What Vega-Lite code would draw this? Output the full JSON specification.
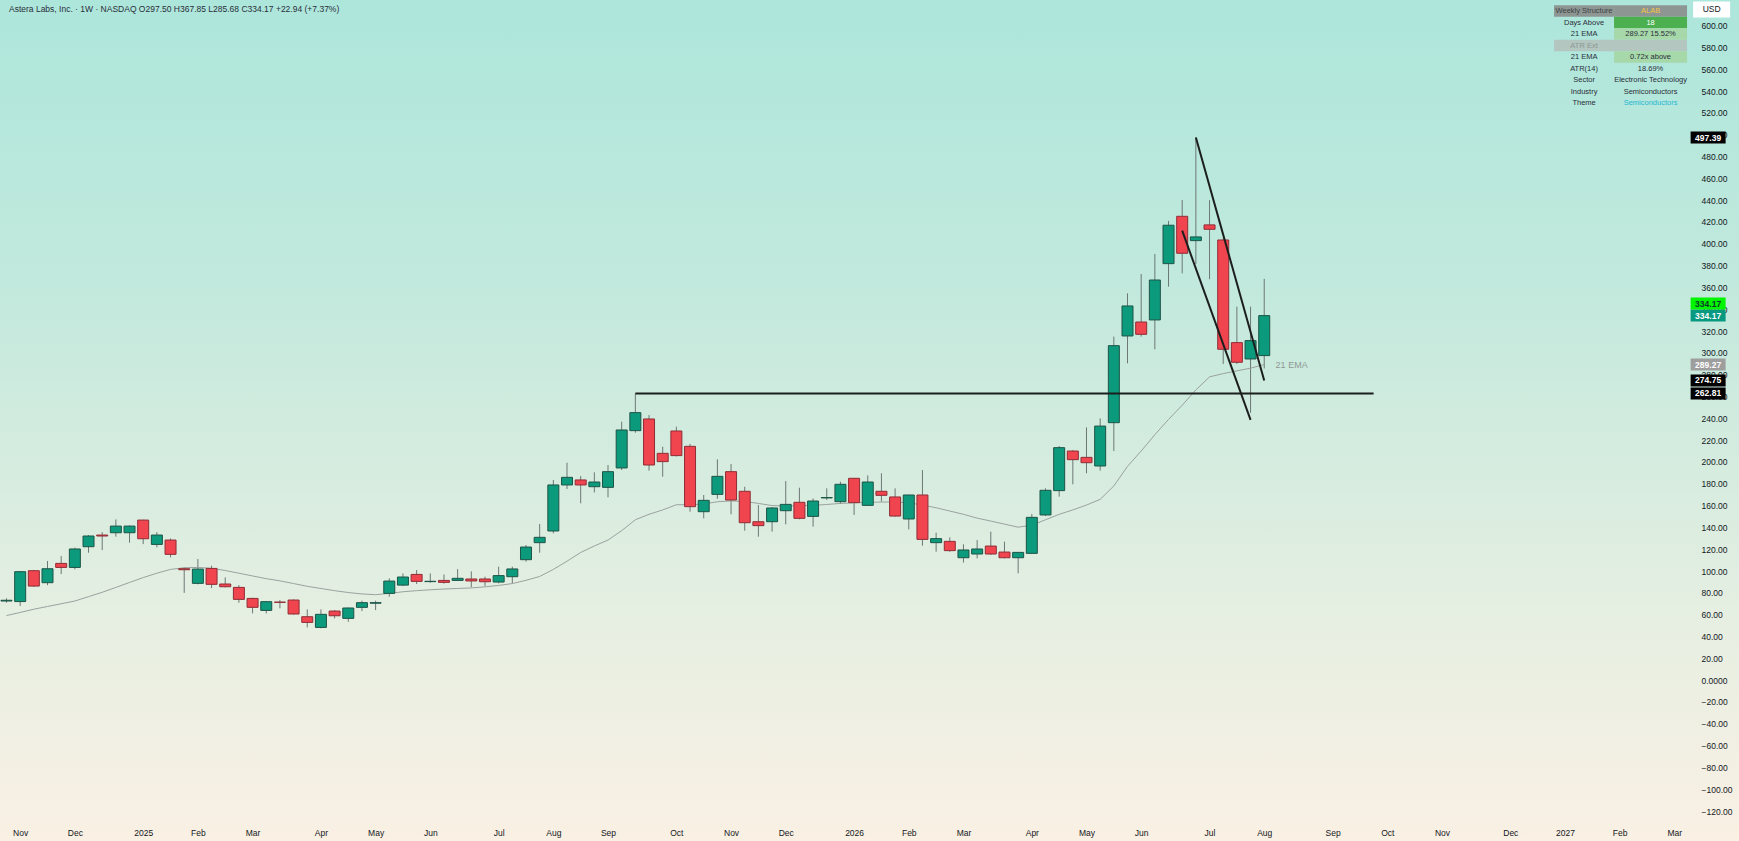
{
  "$schema": "https://vega.github.io/schema/vega-lite/v6.json",
  "width": 1739,
  "height": 841,
  "autosize": "none",
  "padding": 0,
  "background": "#dcece1",
  "config": {
    "font": "Liberation Sans",
    "axis": {"labelOverlap": false},
    "axisY": {"labelOverlap": false, "tickCount": 40},
    "view": {
      "stroke": null,
      "fill": {
        "gradient": "linear", "x1": 0, "y1": 0, "x2": 0, "y2": 1,
        "stops": [
          {"offset": 0, "color": "#ade6db"},
          {"offset": 0.35, "color": "#c3e9dd"},
          {"offset": 0.55, "color": "#d5ecdf"},
          {"offset": 0.75, "color": "#e7efe2"},
          {"offset": 1, "color": "#faf0e4"}
        ]
      }
    }
  },
  "datasets": {
    "candles": [
      {"d": "2024-10-28", "o": 72.5, "h": 75, "l": 71, "c": 73.2, "ema": 59.2},
      {"d": "2024-11-04", "o": 72, "h": 100, "l": 68, "c": 99.4, "ema": 62},
      {"d": "2024-11-11", "o": 100.3, "h": 101, "l": 85.5, "c": 86.2, "ema": 65},
      {"d": "2024-11-18", "o": 89.3, "h": 109.2, "l": 87, "c": 102.1, "ema": 67.5},
      {"d": "2024-11-25", "o": 107, "h": 113.7, "l": 97.2, "c": 103.3, "ema": 70},
      {"d": "2024-12-02", "o": 103.3, "h": 121.4, "l": 101.5, "c": 120.2, "ema": 72.5},
      {"d": "2024-12-09", "o": 122.3, "h": 133, "l": 116.8, "c": 132.1, "ema": 76.5},
      {"d": "2024-12-16", "o": 133, "h": 135.7, "l": 119.2, "c": 132.1, "ema": 80.5},
      {"d": "2024-12-23", "o": 135.1, "h": 147.3, "l": 131.5, "c": 141.2, "ema": 85},
      {"d": "2024-12-30", "o": 135.1, "h": 141.8, "l": 126, "c": 141.2, "ema": 89.5},
      {"d": "2025-01-06", "o": 146.7, "h": 147, "l": 124.7, "c": 129.6, "ema": 94},
      {"d": "2025-01-13", "o": 124.4, "h": 135.7, "l": 121.7, "c": 133, "ema": 98},
      {"d": "2025-01-20", "o": 128.4, "h": 129.9, "l": 112.5, "c": 115.3, "ema": 101.5},
      {"d": "2025-01-27", "o": 102.1, "h": 103.5, "l": 80, "c": 101.2, "ema": 103},
      {"d": "2025-02-03", "o": 88.7, "h": 111, "l": 87.8, "c": 101.8, "ema": 103.3},
      {"d": "2025-02-10", "o": 102.4, "h": 104.9, "l": 84.4, "c": 87.8, "ema": 102.5},
      {"d": "2025-02-17", "o": 88.1, "h": 94.2, "l": 85, "c": 85.6, "ema": 100.5},
      {"d": "2025-02-24", "o": 85, "h": 87.1, "l": 70.9, "c": 74, "ema": 98},
      {"d": "2025-03-03", "o": 74.9, "h": 75.5, "l": 61.2, "c": 66.7, "ema": 95.5},
      {"d": "2025-03-10", "o": 63.9, "h": 72.5, "l": 61.2, "c": 71.9, "ema": 93},
      {"d": "2025-03-17", "o": 71.5, "h": 73.4, "l": 65.8, "c": 71.3, "ema": 91},
      {"d": "2025-03-24", "o": 73.4, "h": 74, "l": 60, "c": 60.6, "ema": 88.5},
      {"d": "2025-03-31", "o": 58.1, "h": 64.8, "l": 48.3, "c": 52.9, "ema": 86},
      {"d": "2025-04-07", "o": 48.3, "h": 64.8, "l": 47.5, "c": 60.3, "ema": 84},
      {"d": "2025-04-14", "o": 63.3, "h": 64.2, "l": 56.6, "c": 59, "ema": 82},
      {"d": "2025-04-21", "o": 56.6, "h": 66.5, "l": 53.5, "c": 66.1, "ema": 80.3},
      {"d": "2025-04-28", "o": 66.7, "h": 72.8, "l": 63.3, "c": 71, "ema": 79},
      {"d": "2025-05-05", "o": 70.5, "h": 72.8, "l": 64.2, "c": 71, "ema": 78.3},
      {"d": "2025-05-12", "o": 79.5, "h": 93.3, "l": 76.5, "c": 90.8, "ema": 79.5},
      {"d": "2025-05-19", "o": 87.1, "h": 97.8, "l": 86.2, "c": 94.5, "ema": 81},
      {"d": "2025-05-26", "o": 96.9, "h": 100.9, "l": 88.1, "c": 90.5, "ema": 82},
      {"d": "2025-06-02", "o": 90.3, "h": 97.8, "l": 89.3, "c": 90.6, "ema": 82.8},
      {"d": "2025-06-09", "o": 91.4, "h": 96.9, "l": 88.4, "c": 89.6, "ema": 83.5},
      {"d": "2025-06-16", "o": 91.4, "h": 101.8, "l": 91, "c": 93.3, "ema": 84},
      {"d": "2025-06-23", "o": 92.7, "h": 99.7, "l": 85.1, "c": 90.9, "ema": 84.5},
      {"d": "2025-06-30", "o": 92.7, "h": 94.8, "l": 86.3, "c": 90.2, "ema": 85.5},
      {"d": "2025-07-07", "o": 89.9, "h": 104, "l": 88.7, "c": 95.8, "ema": 86.8},
      {"d": "2025-07-14", "o": 94.8, "h": 104, "l": 88.7, "c": 101.9, "ema": 88.5},
      {"d": "2025-07-21", "o": 110.4, "h": 123.9, "l": 108.6, "c": 122, "ema": 91.5},
      {"d": "2025-07-28", "o": 126, "h": 143.1, "l": 116.8, "c": 130.9, "ema": 95},
      {"d": "2025-08-04", "o": 136.7, "h": 183.5, "l": 134.6, "c": 178.9, "ema": 101.5},
      {"d": "2025-08-11", "o": 178.9, "h": 199.3, "l": 175.2, "c": 185.9, "ema": 109},
      {"d": "2025-08-18", "o": 183.5, "h": 187.1, "l": 162.1, "c": 178.9, "ema": 117},
      {"d": "2025-08-25", "o": 177.3, "h": 190.5, "l": 172.1, "c": 181.6, "ema": 123},
      {"d": "2025-09-01", "o": 176.7, "h": 197.2, "l": 167.6, "c": 191.1, "ema": 128.4},
      {"d": "2025-09-08", "o": 194.5, "h": 236.9, "l": 192.6, "c": 229.3, "ema": 137},
      {"d": "2025-09-15", "o": 228.7, "h": 262.81, "l": 226.8, "c": 245.2, "ema": 147},
      {"d": "2025-09-22", "o": 239.4, "h": 243, "l": 192, "c": 197.2, "ema": 152},
      {"d": "2025-09-29", "o": 207.9, "h": 214, "l": 186.5, "c": 200.3, "ema": 156},
      {"d": "2025-10-06", "o": 228.4, "h": 232.4, "l": 205, "c": 205.8, "ema": 160.8},
      {"d": "2025-10-13", "o": 214.3, "h": 216.5, "l": 154.4, "c": 159, "ema": 160.7},
      {"d": "2025-10-20", "o": 154.4, "h": 169.7, "l": 148.3, "c": 164.8, "ema": 161.5},
      {"d": "2025-10-27", "o": 170.3, "h": 202.4, "l": 166.3, "c": 186.8, "ema": 163.5},
      {"d": "2025-11-03", "o": 191.1, "h": 198.1, "l": 152, "c": 165.1, "ema": 164.3},
      {"d": "2025-11-10", "o": 173.1, "h": 177.3, "l": 137, "c": 144.3, "ema": 163.7},
      {"d": "2025-11-17", "o": 145.2, "h": 160.5, "l": 131.5, "c": 141.6, "ema": 162},
      {"d": "2025-11-24", "o": 145.2, "h": 158.5, "l": 136.1, "c": 157.8, "ema": 160},
      {"d": "2025-12-01", "o": 155.3, "h": 182.5, "l": 142.8, "c": 161.1, "ema": 159.7},
      {"d": "2025-12-08", "o": 163, "h": 176.4, "l": 147.4, "c": 148.3, "ema": 159.8},
      {"d": "2025-12-15", "o": 150.1, "h": 166.6, "l": 140.7, "c": 164.2, "ema": 160.2},
      {"d": "2025-12-22", "o": 167, "h": 175.8, "l": 165.1, "c": 167.4, "ema": 161},
      {"d": "2025-12-29", "o": 163.6, "h": 181.9, "l": 161.5, "c": 179.5, "ema": 162},
      {"d": "2026-01-05", "o": 185, "h": 185.3, "l": 151.4, "c": 162.7, "ema": 162.5},
      {"d": "2026-01-12", "o": 160.2, "h": 187.7, "l": 160, "c": 181.6, "ema": 163},
      {"d": "2026-01-19", "o": 173.1, "h": 189.6, "l": 163.6, "c": 169.4, "ema": 163.2},
      {"d": "2026-01-26", "o": 167.9, "h": 175.8, "l": 149.8, "c": 150.4, "ema": 163.4},
      {"d": "2026-02-02", "o": 147.7, "h": 170, "l": 138.2, "c": 169.7, "ema": 162.5},
      {"d": "2026-02-09", "o": 169.7, "h": 192.6, "l": 123.2, "c": 129, "ema": 160.5},
      {"d": "2026-02-16", "o": 126, "h": 135.2, "l": 117.7, "c": 129.7, "ema": 158},
      {"d": "2026-02-23", "o": 127.2, "h": 130.9, "l": 117.7, "c": 118.7, "ema": 155},
      {"d": "2026-03-02", "o": 112.2, "h": 124.5, "l": 107.7, "c": 119.3, "ema": 152},
      {"d": "2026-03-09", "o": 115.6, "h": 128.4, "l": 111.6, "c": 120.2, "ema": 148.5},
      {"d": "2026-03-16", "o": 122.9, "h": 136.1, "l": 114.7, "c": 115.6, "ema": 145.8},
      {"d": "2026-03-23", "o": 117.4, "h": 126.9, "l": 111.6, "c": 112.2, "ema": 143},
      {"d": "2026-03-30", "o": 112.2, "h": 117.5, "l": 97.9, "c": 117.1, "ema": 140.2},
      {"d": "2026-04-06", "o": 116.2, "h": 152.3, "l": 115.6, "c": 149.2, "ema": 142},
      {"d": "2026-04-13", "o": 151.4, "h": 175.8, "l": 150.4, "c": 174, "ema": 147},
      {"d": "2026-04-20", "o": 173.7, "h": 214.6, "l": 168.2, "c": 213.1, "ema": 152},
      {"d": "2026-04-27", "o": 210, "h": 210.9, "l": 179.5, "c": 202.1, "ema": 156},
      {"d": "2026-05-04", "o": 204.2, "h": 231.7, "l": 189.6, "c": 199.3, "ema": 160.5},
      {"d": "2026-05-11", "o": 196.3, "h": 240, "l": 192, "c": 232.9, "ema": 165.7},
      {"d": "2026-05-18", "o": 236, "h": 314.9, "l": 210, "c": 306.6, "ema": 178},
      {"d": "2026-05-25", "o": 315.5, "h": 354.6, "l": 290.4, "c": 343, "ema": 196},
      {"d": "2026-06-01", "o": 328.3, "h": 372.3, "l": 314.9, "c": 317, "ema": 210},
      {"d": "2026-06-08", "o": 330.2, "h": 390.7, "l": 303.3, "c": 366.8, "ema": 225},
      {"d": "2026-06-15", "o": 381.8, "h": 421, "l": 360.7, "c": 417, "ema": 239},
      {"d": "2026-06-22", "o": 425.2, "h": 440.2, "l": 372.9, "c": 391.3, "ema": 252},
      {"d": "2026-06-29", "o": 402.9, "h": 497.39, "l": 381.5, "c": 406.3, "ema": 266},
      {"d": "2026-07-06", "o": 417.3, "h": 440, "l": 367.5, "c": 413.3, "ema": 278},
      {"d": "2026-07-13", "o": 403.5, "h": 405, "l": 289.8, "c": 303.3, "ema": 281},
      {"d": "2026-07-20", "o": 309.4, "h": 342.4, "l": 289.8, "c": 291.4, "ema": 283.5},
      {"d": "2026-07-27", "o": 294.4, "h": 342.4, "l": 245, "c": 311.23, "ema": 286},
      {"d": "2026-08-03", "o": 297.5, "h": 367.85, "l": 285.68, "c": 334.17, "ema": 289.27}
    ],
    "lines": [
      {"d": "2025-09-15", "d2": "2026-09-28", "p": 262.81, "p2": 262.81},
      {"d": "2026-06-29", "d2": "2026-08-03", "p": 497.39, "p2": 274.75},
      {"d": "2026-06-22", "d2": "2026-07-27", "p": 412, "p2": 238.5}
    ],
    "tags": [
      {"p": 497.39, "k": "high"},
      {"p": 334.17, "k": "close"},
      {"p": 289.27, "k": "ema"},
      {"p": 274.75, "k": "trend"},
      {"p": 262.81, "k": "level"},
      {"p": 334.17, "k": "alert"}
    ],
    "table": [
      {"r": 1, "c": 1, "t": "Weekly Structure", "kind": "head"},
      {"r": 1, "c": 2, "t": "ALAB", "kind": "ticker"},
      {"r": 2, "c": 1, "t": "Days Above", "kind": "plain"},
      {"r": 2, "c": 2, "t": "18", "kind": "strong"},
      {"r": 3, "c": 1, "t": "21 EMA", "kind": "plain"},
      {"r": 3, "c": 2, "t": "289.27  15.52%", "kind": "soft"},
      {"r": 4, "c": 1, "t": "ATR Ext", "kind": "muted"},
      {"r": 4, "c": 2, "t": "", "kind": "muted"},
      {"r": 5, "c": 1, "t": "21 EMA", "kind": "plain"},
      {"r": 5, "c": 2, "t": "0.72x  above", "kind": "soft"},
      {"r": 6, "c": 1, "t": "ATR(14)", "kind": "plain"},
      {"r": 6, "c": 2, "t": "18.69%", "kind": "plain"},
      {"r": 7, "c": 1, "t": "Sector", "kind": "plain"},
      {"r": 7, "c": 2, "t": "Electronic Technology", "kind": "plain"},
      {"r": 8, "c": 1, "t": "Industry", "kind": "plain"},
      {"r": 8, "c": 2, "t": "Semiconductors", "kind": "plain"},
      {"r": 9, "c": 1, "t": "Theme", "kind": "plain"},
      {"r": 9, "c": 2, "t": "Semiconductors", "kind": "link"}
    ],
    "header": [
      {"t": "Astera Labs, Inc. · 1W · NASDAQ  O297.50  H367.85  L285.68  C334.17  +22.94 (+7.37%)", "p": 615.3}
    ]
  },
  "resolve": {"scale": {"x": "independent", "y": "independent", "color": "independent", "fill": "independent", "size": "independent"}},
  "layer": [
    {
      "layer": [
        {
          "data": {"name": "candles"},
          "mark": {"type": "rule", "color": "#6d7875", "strokeWidth": 1},
          "encoding": {
            "x": {
              "field": "d", "type": "temporal", "title": null,
              "scale": {"type": "utc", "domain": [{"year": 2024, "month": 10, "date": 27, "hours": 5, "minutes": 40, "utc": true}, {"year": 2027, "month": 3, "date": 31, "hours": 13, "utc": true}]},
              "axis": {
                "orient": "bottom", "offset": -9, "title": null, "grid": false, "domain": false, "ticks": false,
                "labelPadding": 0, "labelBaseline": "middle", "labelFontSize": 8.5, "labelColor": "#131722",
                "labelOverlap": false, "labelFlush": false,
                "values": [
                  {"year": 2024, "month": 11, "date": 4, "utc": true}, {"year": 2024, "month": 12, "date": 2, "utc": true},
                  {"year": 2025, "month": 1, "date": 6, "utc": true}, {"year": 2025, "month": 2, "date": 3, "utc": true},
                  {"year": 2025, "month": 3, "date": 3, "utc": true}, {"year": 2025, "month": 4, "date": 7, "utc": true},
                  {"year": 2025, "month": 5, "date": 5, "utc": true}, {"year": 2025, "month": 6, "date": 2, "utc": true},
                  {"year": 2025, "month": 7, "date": 7, "utc": true}, {"year": 2025, "month": 8, "date": 4, "utc": true},
                  {"year": 2025, "month": 9, "date": 1, "utc": true}, {"year": 2025, "month": 10, "date": 6, "utc": true},
                  {"year": 2025, "month": 11, "date": 3, "utc": true}, {"year": 2025, "month": 12, "date": 1, "utc": true},
                  {"year": 2026, "month": 1, "date": 5, "utc": true}, {"year": 2026, "month": 2, "date": 2, "utc": true},
                  {"year": 2026, "month": 3, "date": 2, "utc": true}, {"year": 2026, "month": 4, "date": 6, "utc": true},
                  {"year": 2026, "month": 5, "date": 4, "utc": true}, {"year": 2026, "month": 6, "date": 1, "utc": true},
                  {"year": 2026, "month": 7, "date": 6, "utc": true}, {"year": 2026, "month": 8, "date": 3, "utc": true},
                  {"year": 2026, "month": 9, "date": 7, "utc": true}, {"year": 2026, "month": 10, "date": 5, "utc": true},
                  {"year": 2026, "month": 11, "date": 2, "utc": true}, {"year": 2026, "month": 12, "date": 7, "utc": true},
                  {"year": 2027, "month": 1, "date": 4, "utc": true}, {"year": 2027, "month": 2, "date": 1, "utc": true},
                  {"year": 2027, "month": 3, "date": 1, "utc": true}
                ],
                "labelExpr": "utcFormat(datum.value, '%m') == '01' ? utcFormat(datum.value, '%Y') : utcFormat(datum.value, '%b')"
              }
            },
            "y": {
              "field": "l", "type": "quantitative", "title": null,
              "scale": {"domain": [-147.5, 623.5], "nice": false, "zero": false},
              "axis": {
                "orient": "right", "offset": -38, "title": null, "grid": false, "domain": false, "ticks": false,
                "labelPadding": 0, "labelAlign": "left", "labelBaseline": "middle", "labelFontSize": 8.5, "labelColor": "#131722",
                "labelOverlap": false, "labelFlush": false, "tickCount": 40,
                "values": [-120, -100, -80, -60, -40, -20, 0, 20, 40, 60, 80, 100, 120, 140, 160, 180, 200, 220, 240, 260, 280, 300, 320, 340, 360, 380, 400, 420, 440, 460, 480, 500, 520, 540, 560, 580, 600],
                "labelExpr": "datum.value < -130 || datum.value > 610 ? '' : datum.value == 0 ? '0.0000' : format(datum.value, '.2f')"
              }
            },
            "y2": {"field": "h"}
          }
        },
        {
          "data": {"name": "candles"},
          "mark": {"type": "line", "color": "#9aa29f", "strokeWidth": 1},
          "encoding": {
            "x": {"field": "d", "type": "temporal", "title": null, "scale": {"type": "utc", "domain": [{"year": 2024, "month": 10, "date": 27, "hours": 5, "minutes": 40, "utc": true}, {"year": 2027, "month": 3, "date": 31, "hours": 13, "utc": true}]}},
            "y": {"field": "ema", "type": "quantitative", "title": null, "scale": {"domain": [-147.5, 623.5], "nice": false, "zero": false}}
          }
        },
        {
          "data": {"name": "candles"},
          "mark": {"type": "bar", "size": 11, "strokeWidth": 1},
          "encoding": {
            "x": {"field": "d", "type": "temporal", "title": null, "scale": {"type": "utc", "domain": [{"year": 2024, "month": 10, "date": 27, "hours": 5, "minutes": 40, "utc": true}, {"year": 2027, "month": 3, "date": 31, "hours": 13, "utc": true}]}},
            "y": {"field": "o", "type": "quantitative", "title": null, "scale": {"domain": [-147.5, 623.5], "nice": false, "zero": false}},
            "y2": {"field": "c"},
            "color": {"condition": {"test": "datum.c >= datum.o", "value": "#0c9a7c"}, "value": "#f0444f"},
            "stroke": {"condition": {"test": "datum.c >= datum.o", "value": "#1d5447"}, "value": "#8f2d35"}
          }
        },
        {
          "data": {"name": "lines"},
          "mark": {"type": "rule", "color": "#1b1e1d", "strokeWidth": 2},
          "encoding": {
            "x": {"field": "d", "type": "temporal", "title": null, "scale": {"type": "utc", "domain": [{"year": 2024, "month": 10, "date": 27, "hours": 5, "minutes": 40, "utc": true}, {"year": 2027, "month": 3, "date": 31, "hours": 13, "utc": true}]}},
            "x2": {"field": "d2"},
            "y": {"field": "p", "type": "quantitative", "title": null, "scale": {"domain": [-147.5, 623.5], "nice": false, "zero": false}},
            "y2": {"field": "p2"}
          }
        },
        {
          "data": {"values": [{"t": "21 EMA", "p": 289.2}]},
          "mark": {"type": "text", "align": "left", "baseline": "middle", "fontSize": 9, "color": "#8e9894"},
          "encoding": {
            "x": {"datum": {"year": 2026, "month": 8, "date": 8, "hours": 20, "utc": true}, "type": "temporal", "title": null, "scale": {"type": "utc", "domain": [{"year": 2024, "month": 10, "date": 27, "hours": 5, "minutes": 40, "utc": true}, {"year": 2027, "month": 3, "date": 31, "hours": 13, "utc": true}]}},
            "y": {"field": "p", "type": "quantitative", "title": null, "scale": {"domain": [-147.5, 623.5], "nice": false, "zero": false}},
            "text": {"field": "t"}
          }
        },
        {
          "data": {"name": "tags"},
          "transform": [{"filter": "datum.k != 'alert'"}],
          "mark": {"type": "tick", "orient": "horizontal", "size": 35, "thickness": 12, "opacity": 1},
          "encoding": {
            "x": {"datum": {"year": 2027, "month": 3, "date": 18, "hours": 7, "utc": true}, "type": "temporal", "title": null, "scale": {"type": "utc", "domain": [{"year": 2024, "month": 10, "date": 27, "hours": 5, "minutes": 40, "utc": true}, {"year": 2027, "month": 3, "date": 31, "hours": 13, "utc": true}]}},
            "y": {"field": "p", "type": "quantitative", "title": null, "scale": {"domain": [-147.5, 623.5], "nice": false, "zero": false}},
            "color": {"field": "k", "type": "nominal", "scale": {"domain": ["high", "close", "ema", "trend", "level"], "range": ["#000000", "#089981", "#9e9e9e", "#000000", "#000000"]}, "legend": null}
          }
        },
        {
          "data": {"name": "tags"},
          "transform": [{"filter": "datum.k != 'alert'"}],
          "mark": {"type": "text", "align": "center", "baseline": "middle", "fontSize": 8.5, "fontWeight": "bold", "color": "#ffffff"},
          "encoding": {
            "x": {"datum": {"year": 2027, "month": 3, "date": 18, "hours": 7, "utc": true}, "type": "temporal", "title": null, "scale": {"type": "utc", "domain": [{"year": 2024, "month": 10, "date": 27, "hours": 5, "minutes": 40, "utc": true}, {"year": 2027, "month": 3, "date": 31, "hours": 13, "utc": true}]}},
            "y": {"field": "p", "type": "quantitative", "title": null, "scale": {"domain": [-147.5, 623.5], "nice": false, "zero": false}},
            "text": {"field": "p", "type": "quantitative", "format": ".2f"}
          }
        },
        {
          "data": {"name": "tags"},
          "transform": [{"filter": "datum.k == 'alert'"}],
          "mark": {"type": "tick", "orient": "horizontal", "size": 35, "thickness": 12, "opacity": 1, "color": "#00f500", "yOffset": -12},
          "encoding": {
            "x": {"datum": {"year": 2027, "month": 3, "date": 18, "hours": 7, "utc": true}, "type": "temporal", "title": null, "scale": {"type": "utc", "domain": [{"year": 2024, "month": 10, "date": 27, "hours": 5, "minutes": 40, "utc": true}, {"year": 2027, "month": 3, "date": 31, "hours": 13, "utc": true}]}},
            "y": {"field": "p", "type": "quantitative", "title": null, "scale": {"domain": [-147.5, 623.5], "nice": false, "zero": false}}
          }
        },
        {
          "data": {"name": "tags"},
          "transform": [{"filter": "datum.k == 'alert'"}],
          "mark": {"type": "text", "align": "center", "baseline": "middle", "fontSize": 8.5, "fontWeight": "bold", "color": "#0b3a2c", "yOffset": -12},
          "encoding": {
            "x": {"datum": {"year": 2027, "month": 3, "date": 18, "hours": 7, "utc": true}, "type": "temporal", "title": null, "scale": {"type": "utc", "domain": [{"year": 2024, "month": 10, "date": 27, "hours": 5, "minutes": 40, "utc": true}, {"year": 2027, "month": 3, "date": 31, "hours": 13, "utc": true}]}},
            "y": {"field": "p", "type": "quantitative", "title": null, "scale": {"domain": [-147.5, 623.5], "nice": false, "zero": false}},
            "text": {"field": "p", "type": "quantitative", "format": ".2f"}
          }
        },
        {
          "data": {"values": [{"t": "USD", "p": 614.8}]},
          "mark": {"type": "tick", "orient": "horizontal", "size": 37, "thickness": 16, "opacity": 1, "color": "#ffffff"},
          "encoding": {
            "x": {"datum": {"year": 2027, "month": 3, "date": 20, "hours": 2, "utc": true}, "type": "temporal", "title": null, "scale": {"type": "utc", "domain": [{"year": 2024, "month": 10, "date": 27, "hours": 5, "minutes": 40, "utc": true}, {"year": 2027, "month": 3, "date": 31, "hours": 13, "utc": true}]}},
            "y": {"field": "p", "type": "quantitative", "title": null, "scale": {"domain": [-147.5, 623.5], "nice": false, "zero": false}}
          }
        },
        {
          "data": {"values": [{"t": "USD", "p": 614.8}]},
          "mark": {"type": "text", "align": "center", "baseline": "middle", "fontSize": 8.5, "color": "#131722"},
          "encoding": {
            "x": {"datum": {"year": 2027, "month": 3, "date": 20, "hours": 2, "utc": true}, "type": "temporal", "title": null, "scale": {"type": "utc", "domain": [{"year": 2024, "month": 10, "date": 27, "hours": 5, "minutes": 40, "utc": true}, {"year": 2027, "month": 3, "date": 31, "hours": 13, "utc": true}]}},
            "y": {"field": "p", "type": "quantitative", "title": null, "scale": {"domain": [-147.5, 623.5], "nice": false, "zero": false}},
            "text": {"field": "t"}
          }
        },
        {
          "data": {"name": "header"},
          "mark": {"type": "text", "align": "left", "baseline": "middle", "fontSize": 8.5, "color": "#2a2e39"},
          "encoding": {
            "x": {"datum": {"year": 2024, "month": 10, "date": 29, "hours": 6, "minutes": 30, "utc": true}, "type": "temporal", "title": null, "scale": {"type": "utc", "domain": [{"year": 2024, "month": 10, "date": 27, "hours": 5, "minutes": 40, "utc": true}, {"year": 2027, "month": 3, "date": 31, "hours": 13, "utc": true}]}},
            "y": {"field": "p", "type": "quantitative", "title": null, "scale": {"domain": [-147.5, 623.5], "nice": false, "zero": false}},
            "text": {"field": "t"}
          }
        }
      ]
    },
    {
      "data": {"name": "table"},
      "layer": [
        {
          "transform": [{"filter": {"field": "kind", "oneOf": ["head", "ticker", "strong", "soft", "muted"]}}],
          "mark": {"type": "tick", "orient": "horizontal", "thickness": 11.5, "opacity": 1},
          "encoding": {
            "x": {"field": "c", "type": "quantitative", "scale": {"domain": [-22.82, 3.33], "nice": false, "zero": false}, "axis": null},
            "y": {"field": "r", "type": "quantitative", "scale": {"domain": [0.0435, 73.17], "reverse": true, "nice": false, "zero": false}, "axis": null},
            "size": {"field": "c", "type": "ordinal", "scale": {"domain": [1, 2], "range": [60, 73]}, "legend": null},
            "color": {"field": "kind", "type": "nominal", "scale": {"domain": ["head", "ticker", "strong", "soft", "muted"], "range": ["#8e9694", "#8e9694", "#4caf50", "#a6d8aa", "#b3c6c0"]}, "legend": null}
          }
        },
        {
          "mark": {"type": "text", "align": "center", "baseline": "middle", "fontSize": 7.5},
          "encoding": {
            "x": {"field": "c", "type": "quantitative", "scale": {"domain": [-22.82, 3.33], "nice": false, "zero": false}, "axis": null},
            "y": {"field": "r", "type": "quantitative", "scale": {"domain": [0.0435, 73.17], "reverse": true, "nice": false, "zero": false}, "axis": null},
            "text": {"field": "t"},
            "fill": {"field": "kind", "type": "nominal", "scale": {"domain": ["head", "ticker", "plain", "strong", "soft", "muted", "link"], "range": ["#3e4443", "#f3c443", "#2a2e39", "#ffffff", "#2a2e39", "#8c9794", "#25b6d3"]}, "legend": null}
          }
        }
      ]
    }
  ]
}
